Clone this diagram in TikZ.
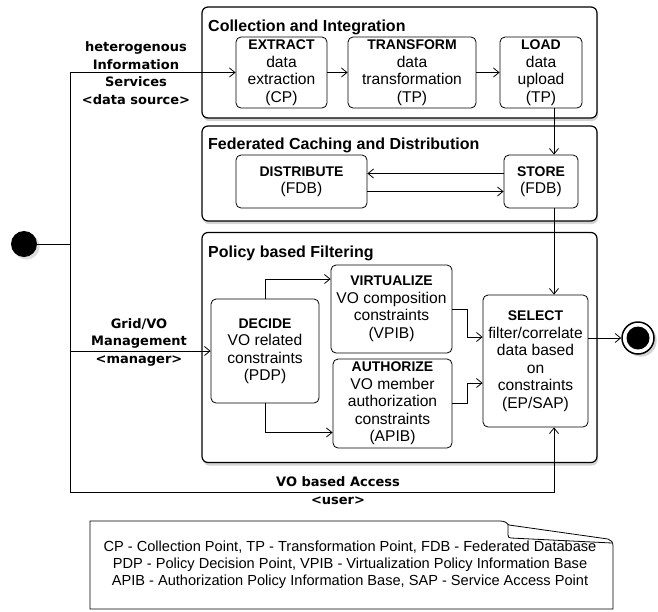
\documentclass[tikz,border=0pt]{standalone}
\usepackage{fontspec}
\setmainfont{Liberation Sans}
\newfontfamily\labelfont{DejaVu Sans}
\usetikzlibrary{arrows.meta,shadows}
\newcommand{\acttitle}[1]{{\fontsize{14}{17.5}\selectfont\bfseries #1}}

\begin{document}
\begin{tikzpicture}[x=1pt, y=-1pt,
    panel/.style={draw, line width=1.2pt, rounded corners=6pt, fill=white, inner sep=0pt,
      drop shadow={shadow xshift=1pt, shadow yshift=-3pt, opacity=0.35}},
    paneltitle/.style={anchor=base west, inner sep=0pt, font=\fontsize{16}{19}\selectfont\bfseries},
    activity/.style={draw, line width=0.8pt, rounded corners=5pt, fill=white, inner sep=0pt,
      align=center, font=\fontsize{15.6}{17.5}\selectfont},
    actor/.style={align=center, inner sep=0pt, font=\labelfont\bfseries\fontsize{13}{17.5}\selectfont},
    wire/.style={line width=0.8pt},
    flow/.style={line width=0.8pt, -{Straight Barb[length=5.5pt, width=9pt]}}]
    \useasboundingbox (0,0) rectangle (658,611);
    \node [panel, minimum width=395pt, minimum height=111pt] (collect) at (399.5,62.5) {};
    \node [panel, minimum width=395pt, minimum height=95pt] (cache) at (399.5,173.5) {};
    \node [panel, minimum width=395pt, minimum height=230pt] (policy) at (399.5,347.5) {};
    \node [paneltitle] (collecttitle) at (208,31) {Collection and Integration};
    \node [paneltitle] (cachetitle) at (208,149) {Federated Caching and Distribution};
    \node [paneltitle] (policytitle) at (208,257) {Policy based Filtering};
    \node [activity, minimum width=91pt, minimum height=71pt] (extract) at (281.5,72.5) {\acttitle{EXTRACT}\\data\\extraction\\(CP)};
    \node [activity, minimum width=128pt, minimum height=71pt] (transform) at (412,72.5) {\acttitle{TRANSFORM}\\data\\transformation\\(TP)};
    \node [activity, minimum width=82pt, minimum height=71pt] (load) at (541,72.5) {\acttitle{LOAD}\\data\\upload\\(TP)};
    \node [activity, minimum width=131pt, minimum height=53pt] (distribute) at (301.5,181.5) {\acttitle{DISTRIBUTE}\\(FDB)};
    \node [activity, minimum width=74pt, minimum height=53pt] (store) at (541,181.5) {\acttitle{STORE}\\(FDB)};
    \node [activity, minimum width=108pt, minimum height=104pt] (decide) at (265,351) {\acttitle{DECIDE}\\VO related\\constraints\\(PDP)};
    \node [activity, minimum width=121pt, minimum height=88pt] (virtualize) at (391.5,309) {\acttitle{VIRTUALIZE}\\VO composition\\constraints\\(VPIB)};
    \node [activity, minimum width=119pt, minimum height=89pt] (authorize) at (392.5,403.5) {\acttitle{AUTHORIZE}\\VO member\\authorization\\constraints\\(APIB)};
    \node [activity, minimum width=105pt, minimum height=132pt] (select) at (535.5,361) {\acttitle{SELECT}\\filter/correlate\\data based\\on\\constraints\\(EP/SAP)};
    \node [circle, fill=black, minimum size=26pt, inner sep=0pt, drop shadow={opacity=0.25}] (start) at (24,244) {};
    \node [circle, draw, line width=1.5pt, fill=white, minimum size=32pt, inner sep=0pt, drop shadow={opacity=0.35}] (finish) at (638,338) {};
    \node [circle, fill=black, minimum size=23pt, inner sep=0pt] (finishdot) at (finish) {};
    \coordinate (rail) at (70,72.5);
    \coordinate (railend) at (70,492);
    \coordinate (storeline) at (554,0);
    \node [actor] (sourcelabel) at (136,73) {heterogenous\\Information\\Services\\<data source>};
    \node [actor] (managerlabel) at (139,342) {Grid/VO\\Management\\<manager>};
    \node [actor] (userlabel) at (338,490.5) {VO based Access\\<user>};
    \draw [wire] (start) -- (start -| rail);
    \draw [wire] (rail) -- (railend);
    \draw [flow] (rail) -- (extract);
    \draw [flow] (extract) -- (transform);
    \draw [flow] (transform) -- (load);
    \draw [flow] (load.south -| storeline) -- (store.north -| storeline);
    \draw [flow] ([yshift=8pt]store.west) -- ([yshift=8pt]distribute.east);
    \draw [flow] ([yshift=-10pt]distribute.east) -- ([yshift=-10pt]store.west);
    \draw [flow] (store.south -| storeline) -- (select.north -| storeline);
    \draw [flow] (decide.west -| rail) -- (decide.west);
    \draw [flow] (decide.north) |- ([yshift=30pt]virtualize.west);
    \draw [flow] (decide.south) |- ([yshift=-29pt]authorize.west);
    \draw [flow] (virtualize.east) -- ++(15,0) |- ([yshift=24pt]select.west);
    \draw [flow] (authorize.east) -- ++(15,0) |- ([yshift=-22pt]select.west);
    \draw [flow] (railend) -| (select.south -| storeline);
    \draw [flow] (finish -| select.east) -- (finish);
    \draw [wire] (90,521) -- (500,521) .. controls (505,521) and (507,523) .. (509,525) -- (608,539) .. controls (611,540) and (613,542) .. (613,546) -- (613,609) -- (90,609) -- cycle;
    \draw [wire] (508,524) -- (508,535) .. controls (508,537) and (509,538) .. (511,538) -- (612,543);
    \node [align=center, font=\fontsize{14.6}{17}\selectfont] (legend) at (350,565) {CP - Collection Point, TP - Transformation Point, FDB - Federated Database\\PDP - Policy Decision Point, VPIB - Virtualization Policy Information Base\\APIB - Authorization Policy Information Base, SAP - Service Access Point};
\end{tikzpicture}
\end{document}
